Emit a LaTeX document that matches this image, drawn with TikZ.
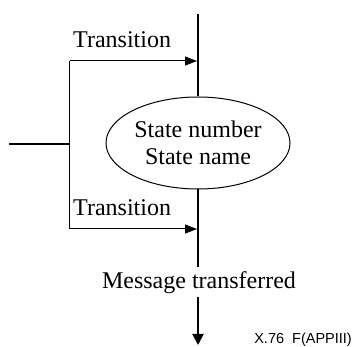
\documentclass[tikz,border=0pt]{standalone}
\usepackage{fontspec}
\setmainfont{Liberation Serif}
\newfontfamily\arialf{Liberation Sans}
\usetikzlibrary{shapes.geometric,arrows.meta}
\tikzset{
  mainline/.style={line width=2pt},
  transline/.style={line width=1pt,-{Triangle[length=12pt,width=9pt]}},
  lbl/.style={font=\fontsize{24}{27}\selectfont,inner sep=0pt},
  statebox/.style={ellipse,draw,line width=1pt,minimum width=184pt,minimum height=92pt,inner sep=0pt,align=center,font=\fontsize{24}{27}\selectfont},
  figref/.style={font=\arialf\fontsize{14.5}{16}\selectfont,inner sep=0pt}
}
\begin{document}
\begin{tikzpicture}[x=1pt,y=-1pt]
\useasboundingbox (0,0) rectangle (354,347);
\node[statebox] (st) at (198,143) {State number\\State name};
\coordinate (top) at (198,14);
\coordinate (stub) at (9,144);
\coordinate (br) at (69.5,144);
\coordinate (brtop) at (69.5,61);
\coordinate (brbot) at (69.5,229);
\coordinate (tA) at (197,61);
\coordinate (tB) at (197,229);
\coordinate (m1) at (198,267);
\coordinate (m2) at (198,297);
\coordinate (tip) at (198,345);
\draw[mainline] (top) -- (st.north);
\draw[mainline] (st.south) -- (m1);
\draw[mainline] (stub) -- (br);
\draw[line width=1pt] (brtop) -- (brbot);
\draw[transline] (brtop) -- (tA);
\draw[transline] (brbot) -- (tB);
\draw[mainline,-{Triangle[length=11pt,width=11pt]}] (m2) -- (tip);
\node[lbl,anchor=base west] (t1) at (73,48) {Transition};
\node[lbl,anchor=base west] (t2) at (73,216) {Transition};
\node[lbl,anchor=base] (msg) at (199,289) {Message transferred};
\node[figref,anchor=base east] (ref) at (352,344) {X.76\ \ F(APPIII)};
\end{tikzpicture}
\end{document}
